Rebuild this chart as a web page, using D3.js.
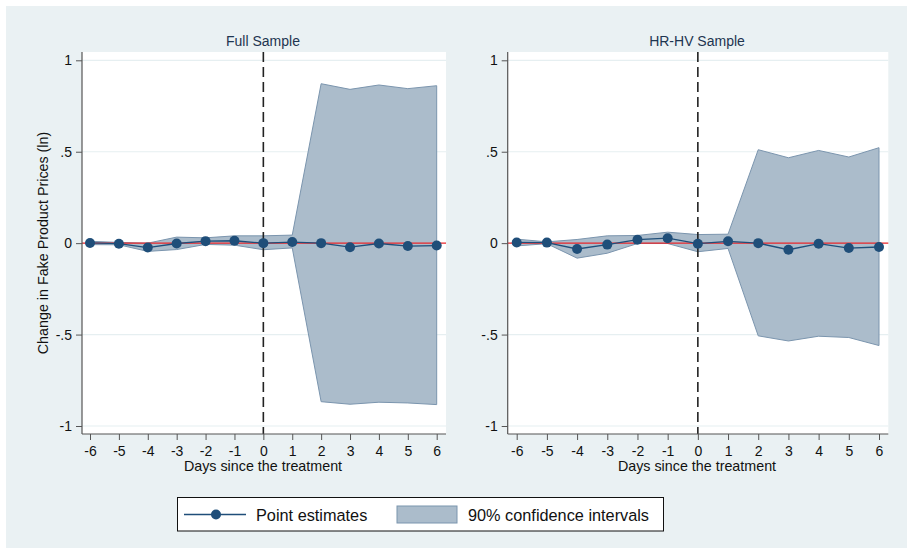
<!DOCTYPE html>
<html>
<head>
<meta charset="utf-8">
<script src="https://cdn.jsdelivr.net/npm/d3@7"></script>
<style>
  html, body { margin: 0; padding: 0; background: #ffffff; }
  svg { display: block; font-family: "Liberation Sans", Arial, sans-serif; }
</style>
</head>
<body>
<svg id="chart" width="907" height="548"></svg>
<script>
// Event-study estimates, days relative to treatment
const days = [-6, -5, -4, -3, -2, -1, 0, 1, 2, 3, 4, 5, 6];

const fullPoint = [0.001, -0.003, -0.024, -0.002, 0.011, 0.013, 0.000, 0.006, 0.000, -0.022, -0.002, -0.016, -0.013];
const fullUpper = [0.010, 0.004, 0.000, 0.033, 0.029, 0.040, 0.040, 0.044, 0.872, 0.841, 0.865, 0.845, 0.861];
const fullLower = [-0.008, -0.009, -0.045, -0.035, -0.007, -0.011, -0.036, -0.026, -0.867, -0.881, -0.870, -0.874, -0.883];

const hrhvPoint = [0.004, 0.003, -0.032, -0.008, 0.019, 0.027, -0.003, 0.010, 0.000, -0.036, -0.003, -0.027, -0.021];
const hrhvUpper = [0.022, 0.007, 0.020, 0.040, 0.042, 0.060, 0.047, 0.049, 0.511, 0.467, 0.507, 0.471, 0.522];
const hrhvLower = [-0.015, -0.003, -0.082, -0.055, -0.002, -0.002, -0.047, -0.029, -0.507, -0.535, -0.509, -0.516, -0.560];

const yTicks = [-1, -0.5, 0, 0.5, 1];
const yTickLabels = ["-1", "-.5", "0", ".5", "1"];
const panelTitles = ["Full Sample", "HR-HV Sample"];
const legendLabels = ["Point estimates", "90% confidence intervals"];

const navy = "#1f4e79";
const bandFill = "#abbccb";
const bandStroke = "#7b95ae";
const bg = "#eaf1f3";

const svg = d3.select("#chart");

// Graph region background
svg.append("rect").attr("x", 6).attr("y", 6).attr("width", 901).attr("height", 542).attr("fill", bg);

const panels = [
  { title: panelTitles[0], pt: fullPoint, up: fullUpper, lo: fullLower,
    left: 82, right: 446, x0: 90, x1: 436.7 },
  { title: panelTitles[1], pt: hrhvPoint, up: hrhvUpper, lo: hrhvLower,
    left: 507.7, right: 888.3, x0: 516.7, x1: 879 }
];

const plotTop = 52, plotBottom = 434;
const y = d3.scaleLinear().domain([-1, 1]).range([426, 60.3]);

panels.forEach((p) => {
  const x = d3.scaleLinear().domain([-6, 6]).range([p.x0, p.x1]);
  const g = svg.append("g");

  // plot area
  g.append("rect").attr("x", p.left).attr("y", plotTop)
    .attr("width", p.right - p.left).attr("height", plotBottom - plotTop).attr("fill", "#ffffff");

  // horizontal grid lines
  g.selectAll(".grid").data(yTicks.filter(v => v !== 0)).enter().append("line")
    .attr("x1", p.left).attr("x2", p.right)
    .attr("y1", d => y(d)).attr("y2", d => y(d))
    .attr("stroke", "#e6eff1").attr("stroke-width", 1.2);

  // confidence band
  const rows = days.map((d, i) => ({ d, pt: p.pt[i], up: p.up[i], lo: p.lo[i] }));
  const area = d3.area().x(r => x(r.d)).y0(r => y(r.lo)).y1(r => y(r.up));
  g.append("path").datum(rows).attr("d", area)
    .attr("fill", bandFill).attr("stroke", bandStroke).attr("stroke-width", 1);

  // zero reference line
  g.append("line").attr("x1", p.left).attr("x2", p.right)
    .attr("y1", y(0)).attr("y2", y(0))
    .attr("stroke", "#e8262b").attr("stroke-width", 1.2);

  // treatment day marker
  g.append("line").attr("x1", x(0)).attr("x2", x(0))
    .attr("y1", plotTop).attr("y2", plotBottom)
    .attr("stroke", "#222222").attr("stroke-width", 1.6)
    .attr("stroke-dasharray", "10,5");

  // point estimates
  const line = d3.line().x(r => x(r.d)).y(r => y(r.pt));
  g.append("path").datum(rows).attr("d", line)
    .attr("fill", "none").attr("stroke", navy).attr("stroke-width", 1.3);
  g.selectAll(".dot").data(rows).enter().append("circle")
    .attr("cx", r => x(r.d)).attr("cy", r => y(r.pt)).attr("r", 5)
    .attr("fill", navy);

  // y axis
  const yAxis = d3.axisLeft(y).tickValues(yTicks)
    .tickFormat((d, i) => yTickLabels[i]).tickSize(6).tickPadding(4);
  const ya = g.append("g").attr("transform", `translate(${p.left},0)`).call(yAxis);
  ya.select(".domain").remove();
  ya.append("line").attr("x1", 0).attr("x2", 0).attr("y1", plotTop).attr("y2", plotBottom)
    .attr("stroke", "#555555").attr("stroke-width", 1.2);
  ya.selectAll(".tick line").attr("stroke", "#555555");
  ya.selectAll(".tick text").attr("font-size", 14).attr("fill", "#111111");

  // x axis
  const xAxis = d3.axisBottom(x).tickValues(days).tickFormat(d => d < 0 ? "-" + Math.abs(d) : String(d))
    .tickSize(6).tickPadding(6);
  const xa = g.append("g").attr("transform", `translate(0,${plotBottom})`).call(xAxis);
  xa.select(".domain").remove();
  xa.append("line").attr("x1", p.left).attr("x2", p.right).attr("y1", 0).attr("y2", 0)
    .attr("stroke", "#555555").attr("stroke-width", 1.2);
  xa.selectAll(".tick line").attr("stroke", "#555555");
  xa.selectAll(".tick text").attr("font-size", 14).attr("fill", "#111111");

  // axis title
  g.append("text").attr("x", (p.left + p.right) / 2 - 1).attr("y", 471)
    .attr("text-anchor", "middle").attr("font-size", 14.3).attr("fill", "#111111")
    .text("Days since the treatment");

  // panel title
  g.append("text").attr("x", (p.left + p.right) / 2 - 1).attr("y", 46)
    .attr("text-anchor", "middle").attr("font-size", 14).attr("fill", "#1e3550")
    .text(p.title);
});

// shared y axis title
svg.append("text")
  .attr("transform", "translate(48,243) rotate(-90)")
  .attr("text-anchor", "middle").attr("font-size", 14.3).attr("fill", "#111111")
  .text("Change in Fake Product Prices (ln)");

// legend
const lg = svg.append("g");
lg.append("rect").attr("x", 177.5).attr("y", 497.5).attr("width", 486).attr("height", 33.5)
  .attr("fill", "#ffffff").attr("stroke", "#111111").attr("stroke-width", 1);
lg.append("line").attr("x1", 184).attr("x2", 246).attr("y1", 514.5).attr("y2", 514.5)
  .attr("stroke", navy).attr("stroke-width", 1.3);
lg.append("circle").attr("cx", 216).attr("cy", 514.5).attr("r", 5).attr("fill", navy);
lg.append("text").attr("x", 256).attr("y", 520.5).attr("font-size", 16.3).attr("fill", "#111111")
  .text(legendLabels[0]);
lg.append("rect").attr("x", 397).attr("y", 506).attr("width", 60).attr("height", 17)
  .attr("fill", bandFill).attr("stroke", bandStroke).attr("stroke-width", 1);
lg.append("text").attr("x", 468).attr("y", 520.5).attr("font-size", 16.3).attr("fill", "#111111")
  .text(legendLabels[1]);
</script>
</body>
</html>
